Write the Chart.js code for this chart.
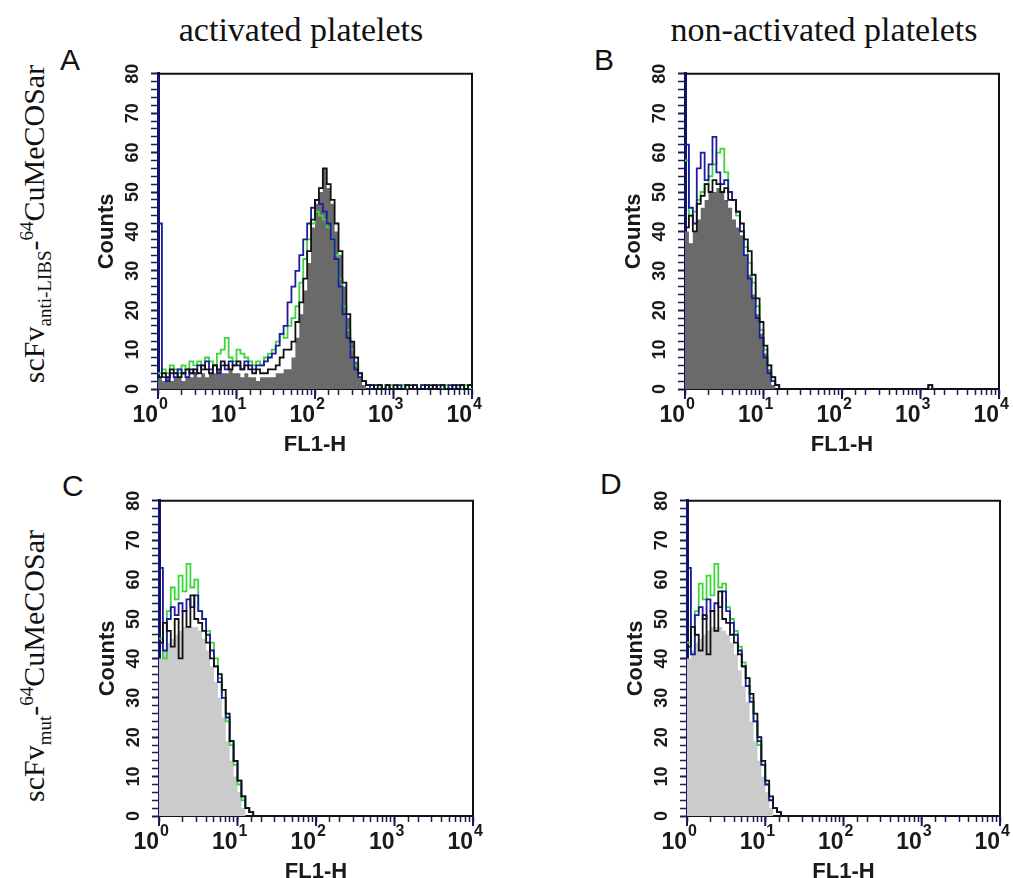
<!DOCTYPE html>
<html lang="en">
<head>
<meta charset="UTF-8" />
<title>FL1-H histograms</title>
<script src="https://cdn.jsdelivr.net/npm/chart.js"></script>
<style>
  body { margin: 0; width: 1013px; height: 878px; background: #fff; position: relative; overflow: hidden; font-family: "Liberation Sans", Arial, sans-serif; }
  canvas { position: absolute; }
  .head { position: absolute; top: 13px; font-family: "Liberation Serif", "Times New Roman", serif; font-size: 34px; line-height: 34px; white-space: nowrap; transform: translateX(-50%); color: #111; }
  .tag { position: absolute; font-size: 30px; line-height: 30px; color: #111; }
  .row { position: absolute; font-family: "Liberation Serif", "Times New Roman", serif; font-size: 30px; line-height: 30px; white-space: nowrap; transform: translate(-50%, -50%) rotate(-90deg); color: #111; }
  .row sub, .row sup { font-size: 19px; line-height: 0; }
</style>
</head>
<body>
  <div class="head" style="left:301px">activated platelets</div>
  <div class="head" style="left:824px">non-activated platelets</div>
  <div class="tag" style="left:60px; top:45px">A</div>
  <div class="tag" style="left:594px; top:45px">B</div>
  <div class="tag" style="left:62px; top:471px">C</div>
  <div class="tag" style="left:600px; top:469px">D</div>
  <div class="row" style="left:34px; top:224px">scFv<sub>anti-LIBS</sub>-<sup>64</sup>CuMeCOSar</div>
  <div class="row" style="left:34px; top:666px">scFv<sub>mut</sub>-<sup>64</sup>CuMeCOSar</div>

  <canvas id="panelA"></canvas>
  <canvas id="panelB"></canvas>
  <canvas id="panelC"></canvas>
  <canvas id="panelD"></canvas>

<script>
// FL1-H channels: 20 bins per decade, 10^0 .. 10^4
const binsPerDecade = 20;
const fl1Edges = Array.from({ length: 4 * binsPerDecade }, (_, i) => 10 ** (i / binsPerDecade));

const xTickValues = [1, 10, 100, 1000, 10000];
const xTickExps = ['0', '1', '2', '3', '4'];
const yMax = 80;

// A: activated, scFv anti-LIBS
const aFill = [
  3, 2, 3, 2, 3, 3, 2, 3, 3, 4,
  3, 4, 3, 4, 4, 5, 4, 4, 5, 4,
  4, 3, 4, 3, 3, 2, 3, 3, 3, 3,
  4, 4, 5, 5, 8, 13, 19, 25, 32, 41,
  47, 50, 56, 51, 47, 40, 34, 26, 18, 12,
  7, 3, 1, 0, 0, 0, 0, 0, 0, 0,
  0, 0, 0, 0, 0, 0, 0, 0, 0, 0,
  0, 0, 0, 0, 0, 0, 0, 0, 0, 0];
const aBlack = [
  3, 4, 3, 5, 4, 3, 4, 5, 4, 5,
  4, 6, 5, 4, 6, 5, 7, 6, 5, 6,
  7, 5, 6, 5, 4, 5, 4, 4, 5, 5,
  6, 8, 10, 10, 12, 17, 22, 28, 35, 43,
  48, 51, 56, 52, 48, 42, 35, 27, 19, 12,
  8, 4, 2, 1, 1, 0, 1, 0, 1, 0,
  1, 0, 0, 1, 0, 1, 0, 0, 1, 0,
  1, 0, 1, 0, 0, 1, 0, 1, 0, 1];
const aBlue = [
  42, 3, 2, 4, 3, 5, 4, 3, 5, 4,
  6, 5, 7, 5, 6, 4, 6, 5, 7, 6,
  6, 5, 7, 6, 5, 6, 6, 7, 8, 9,
  11, 14, 16, 22, 26, 30, 34, 38, 42, 46,
  48, 47, 45, 42, 38, 33, 26, 19, 13, 8,
  5, 3, 2, 1, 0, 1, 1, 0, 1, 0,
  0, 1, 0, 1, 1, 0, 0, 1, 0, 1,
  0, 1, 1, 0, 1, 0, 1, 1, 0, 1];
const aGreen = [
  4, 5, 4, 6, 5, 4, 6, 5, 7, 6,
  7, 6, 8, 7, 6, 9, 10, 13, 8, 7,
  10, 9, 8, 7, 6, 7, 6, 8, 9, 10,
  12, 14, 13, 16, 18, 21, 27, 33, 38, 42,
  45, 44, 43, 41, 38, 34, 28, 21, 15, 10,
  6, 4, 2, 1, 1, 0, 1, 0, 0, 1,
  0, 0, 1, 0, 0, 1, 0, 1, 0, 0,
  1, 0, 0, 1, 0, 0, 1, 0, 1, 0];

// B: non-activated, scFv anti-LIBS
const bFill = [
  40, 37, 40, 43, 46, 48, 50, 50, 51, 50,
  48, 46, 43, 41, 39, 34, 29, 24, 19, 14,
  9, 5, 1, 0, 0, 0, 0, 0, 0, 0,
  0, 0, 0, 0, 0, 0, 0, 0, 0, 0,
  0, 0, 0, 0, 0, 0, 0, 0, 0, 0,
  0, 0, 0, 0, 0, 0, 0, 0, 0, 0,
  0, 0, 0, 0, 0, 0, 0, 0, 0, 0,
  0, 0, 0, 0, 0, 0, 0, 0, 0, 0];
const bBlack = [
  41, 44, 40, 47, 49, 52, 50, 53, 52, 50,
  51, 48, 48, 45, 42, 38, 35, 29, 23, 17,
  11, 6, 3, 1, 0, 0, 0, 0, 0, 0,
  0, 0, 0, 0, 0, 0, 0, 0, 0, 0,
  0, 0, 0, 0, 0, 0, 0, 0, 0, 0,
  0, 0, 0, 0, 0, 0, 0, 0, 0, 0,
  0, 0, 1, 0, 0, 0, 0, 0, 0, 0,
  0, 0, 0, 0, 0, 0, 0, 0, 0, 0];
const bBlue = [
  62, 46, 42, 56, 60, 53, 57, 64, 55, 52,
  53, 50, 48, 45, 40, 34, 28, 23, 18, 13,
  8, 4, 2, 1, 0, 0, 0, 0, 0, 0,
  0, 0, 0, 0, 0, 0, 0, 0, 0, 0,
  0, 0, 0, 0, 0, 0, 0, 0, 0, 0,
  0, 0, 0, 0, 0, 0, 0, 0, 0, 0,
  0, 0, 1, 0, 0, 0, 0, 0, 0, 0,
  0, 0, 0, 0, 0, 0, 0, 0, 0, 0];
const bGreen = [
  58, 44, 45, 48, 50, 52, 54, 57, 60, 61,
  55, 50, 48, 44, 40, 36, 32, 27, 21, 15,
  10, 6, 3, 1, 0, 0, 0, 0, 0, 0,
  0, 0, 0, 0, 0, 0, 0, 0, 0, 0,
  0, 0, 0, 0, 0, 0, 0, 0, 0, 0,
  0, 0, 0, 0, 0, 0, 0, 0, 0, 0,
  0, 0, 0, 0, 0, 0, 0, 0, 0, 0,
  0, 0, 0, 0, 0, 0, 0, 0, 0, 0];

// C: activated, scFv mut
const cFill = [
  40, 42, 44, 45, 46, 47, 48, 48, 48, 48,
  47, 45, 42, 38, 34, 30, 25, 19, 14, 10,
  6, 2, 0, 0, 0, 0, 0, 0, 0, 0,
  0, 0, 0, 0, 0, 0, 0, 0, 0, 0,
  0, 0, 0, 0, 0, 0, 0, 0, 0, 0,
  0, 0, 0, 0, 0, 0, 0, 0, 0, 0,
  0, 0, 0, 0, 0, 0, 0, 0, 0, 0,
  0, 0, 0, 0, 0, 0, 0, 0, 0, 0];
const cBlack = [
  44, 49, 47, 43, 50, 40, 52, 48, 56, 50,
  49, 47, 44, 40, 38, 36, 32, 26, 19, 14,
  9, 5, 2, 1, 0, 0, 0, 0, 0, 0,
  0, 0, 0, 0, 0, 0, 0, 0, 0, 0,
  0, 0, 0, 0, 0, 0, 0, 0, 0, 0,
  0, 0, 0, 0, 0, 0, 0, 0, 0, 0,
  0, 0, 0, 0, 0, 0, 0, 0, 0, 0,
  0, 0, 0, 0, 0, 0, 0, 0, 0, 0];
const cBlue = [
  63, 42, 50, 53, 51, 54, 52, 55, 53, 56,
  52, 50, 46, 42, 38, 34, 30, 25, 19, 14,
  9, 5, 2, 1, 0, 0, 0, 0, 0, 0,
  0, 0, 0, 0, 0, 0, 0, 0, 0, 0,
  0, 0, 0, 0, 0, 0, 0, 0, 0, 0,
  0, 0, 0, 0, 0, 0, 0, 0, 0, 0,
  0, 0, 0, 0, 0, 0, 0, 0, 0, 0,
  0, 0, 0, 0, 0, 0, 0, 0, 0, 0];
const cGreen = [
  45, 40, 52, 58, 55, 61, 57, 64, 58, 60,
  52, 50, 47, 44, 40, 35, 30, 24, 18, 13,
  8, 4, 2, 1, 0, 0, 0, 0, 0, 0,
  0, 0, 0, 0, 0, 0, 0, 0, 0, 0,
  0, 0, 0, 0, 0, 0, 0, 0, 0, 0,
  0, 0, 0, 0, 0, 0, 0, 0, 0, 0,
  0, 0, 0, 0, 0, 0, 0, 0, 0, 0,
  0, 0, 0, 0, 0, 0, 0, 0, 0, 0];

// D: non-activated, scFv mut
const dFill = [
  40, 42, 44, 45, 46, 47, 48, 48, 48, 47,
  46, 44, 41, 37, 33, 29, 24, 19, 14, 10,
  6, 2, 0, 0, 0, 0, 0, 0, 0, 0,
  0, 0, 0, 0, 0, 0, 0, 0, 0, 0,
  0, 0, 0, 0, 0, 0, 0, 0, 0, 0,
  0, 0, 0, 0, 0, 0, 0, 0, 0, 0,
  0, 0, 0, 0, 0, 0, 0, 0, 0, 0,
  0, 0, 0, 0, 0, 0, 0, 0, 0, 0];
const dBlack = [
  43, 48, 46, 42, 51, 41, 52, 47, 57, 50,
  49, 46, 44, 41, 38, 35, 31, 26, 20, 14,
  9, 5, 2, 1, 0, 0, 0, 0, 0, 0,
  0, 0, 0, 0, 0, 0, 0, 0, 0, 0,
  0, 0, 0, 0, 0, 0, 0, 0, 0, 0,
  0, 0, 0, 0, 0, 0, 0, 0, 0, 0,
  0, 0, 0, 0, 0, 0, 0, 0, 0, 0,
  0, 0, 0, 0, 0, 0, 0, 0, 0, 0];
const dBlue = [
  63, 41, 51, 53, 50, 55, 52, 54, 53, 57,
  52, 49, 46, 42, 38, 33, 29, 24, 19, 13,
  8, 4, 2, 1, 0, 0, 0, 0, 0, 0,
  0, 0, 0, 0, 0, 0, 0, 0, 0, 0,
  0, 0, 0, 0, 0, 0, 0, 0, 0, 0,
  0, 0, 0, 0, 0, 0, 0, 0, 0, 0,
  0, 0, 0, 0, 0, 0, 0, 0, 0, 0,
  0, 0, 0, 0, 0, 0, 0, 0, 0, 0];
const dGreen = [
  44, 41, 52, 59, 55, 61, 56, 64, 58, 59,
  53, 50, 47, 43, 39, 35, 30, 24, 18, 13,
  8, 4, 2, 1, 0, 0, 0, 0, 0, 0,
  0, 0, 0, 0, 0, 0, 0, 0, 0, 0,
  0, 0, 0, 0, 0, 0, 0, 0, 0, 0,
  0, 0, 0, 0, 0, 0, 0, 0, 0, 0,
  0, 0, 0, 0, 0, 0, 0, 0, 0, 0,
  0, 0, 0, 0, 0, 0, 0, 0, 0, 0];

// plot area of each panel on the page: left, top, right, bottom
const layoutA = [158, 71, 472, 389];
const layoutB = [685, 71, 999, 389];
const layoutC = [159, 498, 473, 816];
const layoutD = [687, 498, 1000, 816];

const Y_AXIS_W = 98, X_AXIS_H = 76, PAD_TOP = 16;
const ink = '#1a1a1a';
const tickInk = '#1b1b55';
const fontFam = '"Liberation Sans", Arial, sans-serif';

// step histogram points, last bin closed at 10^4
function steps(vals) {
  const pts = vals.map((v, i) => ({ x: fl1Edges[i], y: v }));
  pts.push({ x: 10000, y: vals[vals.length - 1] });
  return pts;
}

const frame = {
  id: 'frame',
  beforeDatasetsDraw(chart) {
    const { ctx, chartArea: a } = chart;
    ctx.save();
    ctx.strokeStyle = '#111';
    ctx.lineWidth = 2;
    ctx.beginPath();
    ctx.moveTo(a.left, a.top);
    ctx.lineTo(a.right, a.top);
    ctx.lineTo(a.right, a.bottom);
    ctx.stroke();
    ctx.restore();
  }
};

// decade labels with a raised exponent, plus longer decade ticks
const decadeLabels = {
  id: 'decadeLabels',
  afterDraw(chart) {
    const { ctx, chartArea: a, scales: { x } } = chart;
    ctx.save();
    ctx.fillStyle = ink;
    ctx.strokeStyle = tickInk;
    ctx.lineWidth = 2;
    ctx.textBaseline = 'alphabetic';
    xTickValues.forEach((v, i) => {
      const px = x.getPixelForValue(v);
      ctx.beginPath();
      ctx.moveTo(px, a.bottom);
      ctx.lineTo(px, a.bottom + 10);
      ctx.stroke();
      ctx.font = 'bold 23px ' + fontFam;
      ctx.textAlign = 'right';
      ctx.fillText('10', px, a.bottom + 33);
      ctx.font = 'bold 16px ' + fontFam;
      ctx.textAlign = 'left';
      ctx.fillText(xTickExps[i], px + 1, a.bottom + 20);
    });
    ctx.restore();
  }
};

function makePanel(id, box, series, fillColor) {
  const canvas = document.getElementById(id);
  const [L, T, R, B] = box;
  const padRight = 14;
  canvas.style.left = (L - Y_AXIS_W) + 'px';
  canvas.style.top = (T - PAD_TOP) + 'px';
  canvas.width = Y_AXIS_W + (R - L) + padRight;
  canvas.height = PAD_TOP + (B - T) + X_AXIS_H;

  const line = (vals, color, order) => ({
    data: steps(vals), stepped: true, fill: false,
    borderColor: color, borderWidth: 1.8, pointRadius: 0, order
  });

  new Chart(canvas, {
    type: 'line',
    data: {
      datasets: [
        { data: steps(series[0]), stepped: true, fill: 'origin', backgroundColor: fillColor,
          borderWidth: 0, pointRadius: 0, order: 4 },
        line(series[3], '#3cd63c', 3),
        line(series[2], '#1c1ca0', 2),
        line(series[1], '#111111', 1)
      ]
    },
    options: {
      responsive: false,
      animation: false,
      events: [],
      layout: { padding: { left: 0, top: PAD_TOP, right: padRight, bottom: 0 } },
      plugins: { legend: { display: false }, tooltip: { enabled: false } },
      scales: {
        x: {
          type: 'logarithmic', min: 1, max: 10000,
          afterFit: s => { s.height = X_AXIS_H; },
          grid: { drawOnChartArea: false, tickLength: 6, tickColor: tickInk, tickWidth: 1.5 },
          border: { color: '#111', width: 2 },
          ticks: { display: false, autoSkip: false },
          title: { display: true, text: 'FL1-H', color: ink,
                   font: { family: fontFam, size: 22, weight: 'bold' }, padding: { top: 0, bottom: 7 } }
        },
        y: {
          min: 0, max: yMax,
          afterFit: s => { s.width = Y_AXIS_W; },
          grid: { drawOnChartArea: false, tickLength: 7,
                  tickColor: tickInk, tickWidth: c => (c.tick && c.tick.value % 10 === 0 ? 2 : 1.5) },
          border: { color: '#10106e', width: 3 },
          ticks: {
            stepSize: 2, autoSkip: false, minRotation: 90, maxRotation: 90,
            crossAlign: 'center', padding: 8, color: ink,
            font: { family: fontFam, size: 18, weight: 'bold' },
            callback: v => (v % 10 === 0 ? String(v) : '')
          },
          title: { display: true, text: 'Counts', color: ink,
                   font: { family: fontFam, size: 22, weight: 'bold' }, padding: { top: 34, bottom: 0 } }
        }
      }
    },
    plugins: [frame, decadeLabels]
  });
}

makePanel('panelA', layoutA, [aFill, aBlack, aBlue, aGreen], '#6a6a6a');
makePanel('panelB', layoutB, [bFill, bBlack, bBlue, bGreen], '#6a6a6a');
makePanel('panelC', layoutC, [cFill, cBlack, cBlue, cGreen], '#cbcbcb');
makePanel('panelD', layoutD, [dFill, dBlack, dBlue, dGreen], '#cbcbcb');
</script>
</body>
</html>
